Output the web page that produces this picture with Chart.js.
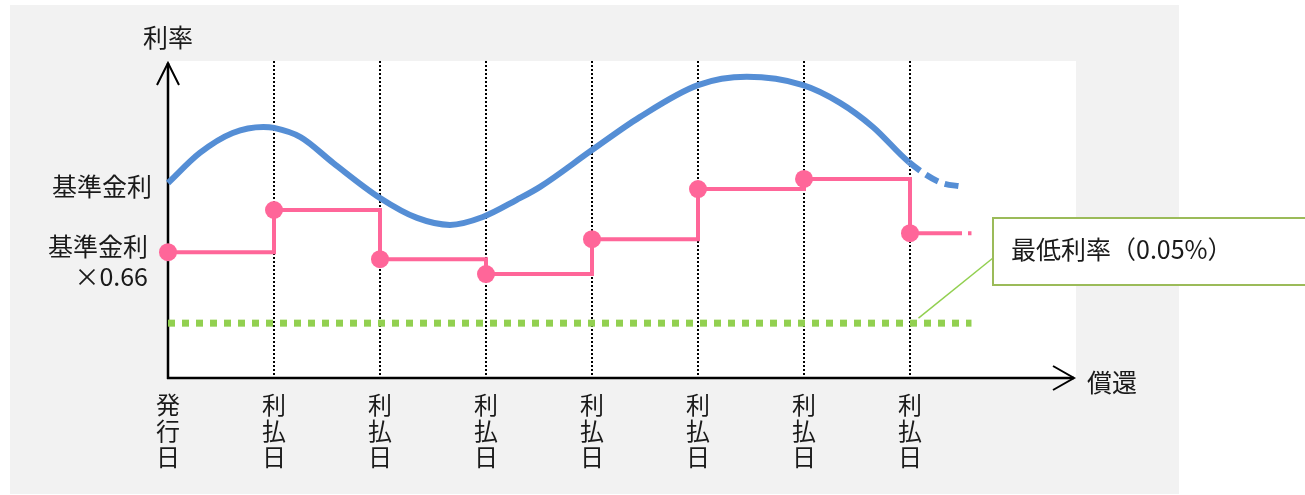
<!DOCTYPE html>
<html>
<head>
<meta charset="utf-8">
<script src="https://cdn.jsdelivr.net/npm/chart.js@4/dist/chart.umd.min.js"></script>
<style>
  body { margin: 0; background: #fff; }
  canvas { display: block; }
</style>
</head>
<body>
<canvas id="rateChart" width="1305" height="495"></canvas>
<script>
// periods on the x axis (0 = issue date, 1..7 = interest payment dates)
const tickLabels = [['発', '行', '日'], ['利', '払', '日'], ['利', '払', '日'], ['利', '払', '日'],
                    ['利', '払', '日'], ['利', '払', '日'], ['利', '払', '日'], ['利', '払', '日']];

// reference rate curve (arbitrary units)
const baseX = [0, 0.30, 0.61, 0.90, 1.0, 1.25, 1.56, 2.0, 2.35, 2.66, 2.97, 3.29, 3.51, 4.0, 4.45, 5.0, 5.46, 5.99, 6.34, 6.65, 6.99, 7.28, 7.50];
const baseY = [6.15, 7.10, 7.73, 7.92, 7.89, 7.60, 6.78, 5.68, 5.05, 4.83, 5.08, 5.62, 6.03, 7.19, 8.23, 9.24, 9.50, 9.24, 8.68, 7.92, 6.81, 6.18, 6.03];

// reference rate x 0.66, fixed at each payment date
const stepX = [0, 1, 2, 3, 4, 5, 6, 7, 7.58];
const stepY = [3.97, 5.30, 3.75, 3.28, 4.38, 5.96, 6.28, 4.57, 4.57];

// minimum rate (0.05%)
const floorX = [0, 7.58];
const floorY = [1.73, 1.73];

const FONT = '"Noto Sans CJK JP", "Noto Sans", sans-serif';
const TEXT = '#1a1a1a';

const toPoints = (xs, ys) => xs.map((x, i) => ({ x: x, y: ys[i] }));

const frame = {
    id: 'frame',
    beforeDraw(chart) {
        const { ctx, chartArea: a } = chart;
        ctx.save();
        ctx.fillStyle = '#f2f2f2';
        ctx.fillRect(10, 5, 1169, 489);
        ctx.fillStyle = '#fff';
        ctx.fillRect(a.left, a.top, a.right - a.left, a.bottom - a.top);
        ctx.restore();
    },
    beforeDatasetsDraw(chart) {
        // axes with arrow heads
        const { ctx, chartArea: a } = chart;
        ctx.save();
        ctx.strokeStyle = '#000';
        ctx.lineWidth = 2.5;
        ctx.beginPath();
        ctx.moveTo(a.left, a.bottom + 1);
        ctx.lineTo(a.left, a.top + 2);
        ctx.moveTo(a.left - 1, a.bottom);
        ctx.lineTo(a.right - 2, a.bottom);
        ctx.stroke();
        ctx.lineWidth = 2;
        ctx.beginPath();
        ctx.moveTo(a.left - 11, a.top + 24);
        ctx.lineTo(a.left, a.top + 2);
        ctx.lineTo(a.left + 11, a.top + 24);
        ctx.moveTo(a.right - 23, a.bottom - 12);
        ctx.lineTo(a.right - 2, a.bottom);
        ctx.lineTo(a.right - 23, a.bottom + 12);
        ctx.stroke();
        ctx.restore();
    },
    afterDraw(chart) {
        const { ctx, chartArea: a } = chart;
        const xs = chart.scales.x, ys = chart.scales.y;
        ctx.save();
        ctx.fillStyle = TEXT;
        ctx.font = '25px ' + FONT;
        ctx.textBaseline = 'middle';
        ctx.textAlign = 'center';
        ctx.fillText('利率', a.left, 37);
        ctx.textAlign = 'right';
        ctx.fillText('基準金利', 152, ys.getPixelForValue(baseY[0]) + 3);
        const py = ys.getPixelForValue(stepY[0]);
        ctx.fillText('基準金利', 148, py - 6);
        ctx.fillText('×0.66', 148, py + 24);
        ctx.textAlign = 'left';
        ctx.fillText('償還', 1087, a.bottom + 4);

        // callout for the floor rate
        const fy = ys.getPixelForValue(floorY[0]);
        const fx = xs.getPixelForValue(7.08);
        ctx.strokeStyle = '#92D050';
        ctx.lineWidth = 1.5;
        ctx.beginPath();
        ctx.moveTo(fx, fy - 5);
        ctx.lineTo(993, 258);
        ctx.stroke();
        ctx.fillStyle = '#fff';
        ctx.fillRect(993, 218, 320, 67);
        ctx.strokeStyle = '#9BBB59';
        ctx.lineWidth = 2;
        ctx.strokeRect(993, 218, 320, 67);
        ctx.fillStyle = TEXT;
        ctx.fillText('最低利率（0.05%）', 1011, 249);
        ctx.restore();
    }
};

new Chart(document.getElementById('rateChart'), {
    type: 'line',
    data: {
        datasets: [
            {
                label: '基準金利',
                data: toPoints(baseX, baseY),
                borderColor: '#558ED5',
                borderWidth: 6,
                pointRadius: 0,
                cubicInterpolationMode: 'monotone',
                borderCapStyle: 'butt',
                clip: false,
                segment: {
                    borderDash: ctx => ctx.p0.parsed.x >= 6.95 ? [14, 7] : undefined
                },
                order: 2
            },
            {
                label: '基準金利×0.66',
                data: toPoints(stepX, stepY),
                borderColor: '#FF6699',
                backgroundColor: '#FF6699',
                borderWidth: 4,
                stepped: 'before',
                pointRadius: ctx => ctx.dataIndex < 8 ? 9 : 0,
                pointBorderWidth: 0,
                clip: false,
                segment: {
                    borderDash: ctx => ctx.p0DataIndex >= 7 ? [52, 6] : undefined
                },
                order: 1
            },
            {
                label: '最低利率',
                data: toPoints(floorX, floorY),
                borderColor: '#92D050',
                borderWidth: 7,
                borderDash: [7, 7],
                borderCapStyle: 'butt',
                pointRadius: 0,
                clip: false,
                order: 3
            }
        ]
    },
    options: {
        responsive: false,
        animation: false,
        layout: { padding: { left: 168, top: 61, right: 229, bottom: 0 } },
        plugins: { legend: { display: false }, tooltip: { enabled: false } },
        scales: {
            x: {
                type: 'linear',
                min: 0,
                max: 908 / 106,
                afterBuildTicks: s => { s.ticks = tickLabels.map((_, i) => ({ value: i })); },
                afterFit: s => { s.height = 117; },
                grid: {
                    color: ctx => (ctx.tick && ctx.tick.value > 0) ? '#000' : 'rgba(0,0,0,0)',
                    lineWidth: 2,
                    drawTicks: false
                },
                border: { display: false, dash: [2, 2] },
                ticks: {
                    autoSkip: false,
                    maxRotation: 0,
                    padding: 14,
                    color: TEXT,
                    font: { family: FONT, size: 24, lineHeight: 1.08 },
                    callback: (v) => tickLabels[v] || ''
                }
            },
            y: {
                display: false,
                min: 0,
                max: 10
            }
        }
    },
    plugins: [frame]
});
</script>
</body>
</html>
